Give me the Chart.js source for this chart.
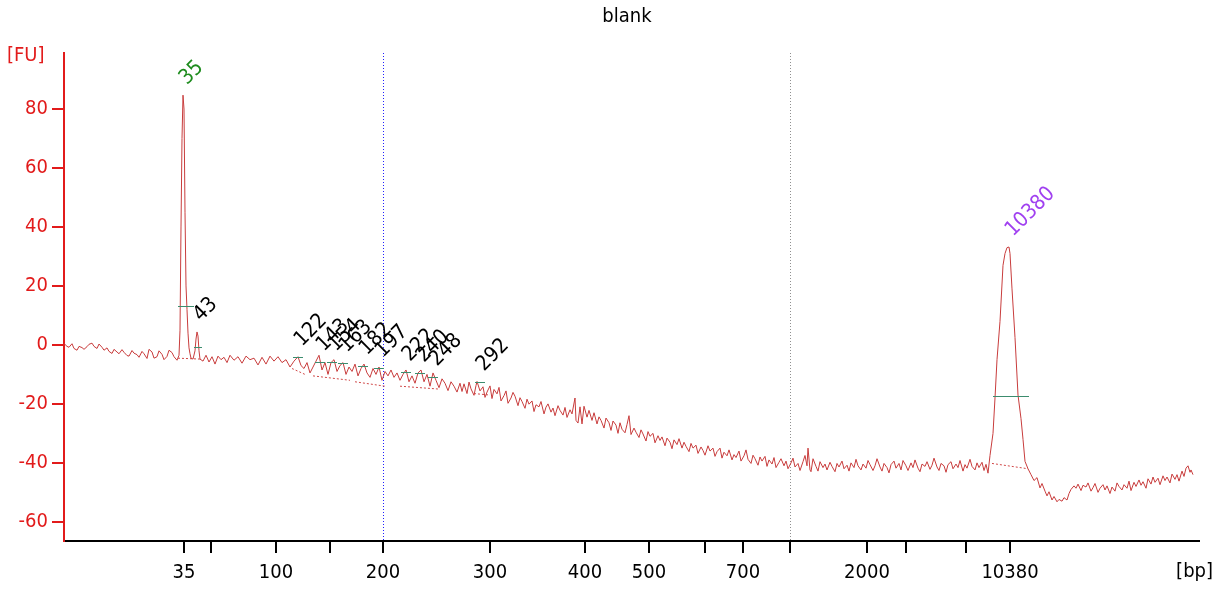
<!DOCTYPE html>
<html>
<head>
<meta charset="utf-8">
<title>blank</title>
<script src="https://cdn.jsdelivr.net/npm/chart.js@4/dist/chart.umd.min.js"></script>
<style>
  html, body { margin: 0; padding: 0; background: #fff; }
  #wrap { width: 1216px; height: 590px; }
</style>
</head>
<body>
<div id="wrap"><canvas id="electro"></canvas></div>
<script>
// x axis is migration (sample index), bp ladder is only a labelling of it
const tickSample = [120, 147, 212, 266, 319, 426, 521, 585, 641, 679, 726, 803, 842, 902, 946];
const tickLabel  = ['35', '', '100', '', '200', '300', '400', '500', '', '700', '', '2000', '', '', '10380'];

// called peaks: position, height at top, size label, colour
const peakSample = [119, 133, 234, 256, 268, 279, 299, 315, 342, 356, 369, 416, 945];
const peakFU     = [84.7, 4.4, -4.1, -5.8, -5.8, -6.1, -7.1, -7.8, -9.2, -9.5, -10.8, -12.5, 33.2];
const peakLabel  = ['35', '43', '122', '143', '154', '163', '182', '197', '222', '240', '248', '292', '10380'];
const peakColor  = ['#1e8c1e', '#000', '#000', '#000', '#000', '#000', '#000', '#000', '#000', '#000', '#000', '#000', '#a040f0'];

// green peak-width markers [sample from, sample to, FU]
const markers = [[114, 130, 13.2], [130, 138, -0.6], [229, 239, -4.1], [251, 261, -5.8], [263, 273, -5.8],
  [274, 284, -6.1], [294, 304, -7.1], [310, 320, -7.8], [337, 347, -9.2], [351, 361, -9.5],
  [364, 374, -10.8], [411, 421, -12.5], [929, 965, -17.3]];

// dotted baselines under peaks [x0, FU0, x1, FU1]
const baselines = [[114, -4.5, 136, -4.8], [228, -8, 241, -10], [249, -10.5, 286, -12], [291, -12.5, 321, -14],
  [336, -14, 376, -15], [410, -16.5, 426, -17], [928, -40.2, 964, -42]];

// electropherogram trace [sample, FU]
const trace = [
  [0,0.5],[3,-0.5],[5,-0.8],[8,0.4],[10,-1.2],[13,-1.8],[15,-0.5],[18,-0.9],[20,-1.5],[23,-0.6],[25,0.2],[28,0.6],[30,-0.5],[33,-1.2],[35,0.3],[38,-0.8],[40,-1.8],[43,-1.0],[45,-2.2],[48,-2.9],
  [50,-1.5],[53,-2.4],[55,-3.0],[58,-1.6],[60,-2.5],[63,-3.6],[65,-3.8],[68,-1.9],[70,-2.8],[73,-3.3],[75,-4.2],[78,-2.2],[80,-3.0],[83,-4.6],[85,-1.5],[88,-2.4],[90,-4.5],[93,-4.0],[95,-2.0],[98,-3.2],
  [100,-5.0],[103,-3.9],[105,-1.8],[108,-2.6],[110,-4.0],[113,-5.2],[115,-3.5],[116,5],[117,40],[118,70],[119,84.7],[120,80],
  [121,45],[122,20],[123,12],[124,4],[125,-1],[126,-3],[127,-4.5],[129,-4.8],[131,-2],[132,2],
  [133,4.4],[134,3],[135,-2],[136,-4.8],[139,-5.5],[142,-3.5],[145,-5.8],[148,-4.0],[151,-6.5],[154,-3.8],
  [157,-5.0],[160,-4.2],[163,-6.0],[166,-3.5],[170,-5.2],[174,-4.0],[178,-6.2],[182,-3.8],[186,-5.0],[190,-4.5],
  [194,-6.8],[198,-4.2],[202,-6.5],[206,-3.8],[210,-5.5],[214,-4.0],[218,-6.0],[222,-5.0],[226,-7.5],[230,-5.5],
  [234,-4.0],[237,-7.0],[240,-8.0],[243,-6.0],[246,-9.5],[249,-7.5],[252,-5.5],[255,-3.5],[258,-8.5],[261,-6.0],
  [264,-10.0],[267,-6.0],[270,-5.0],[273,-9.0],[276,-7.0],[279,-6.0],[282,-10.0],[285,-7.5],[288,-9.0],[291,-6.5],
  [294,-10.5],[297,-8.0],[300,-6.5],[303,-9.5],[306,-11.0],[309,-8.0],[312,-10.0],[315,-7.5],[318,-12.0],[321,-9.0],
  [324,-10.5],[327,-8.5],[330,-11.0],[333,-9.5],[336,-12.0],[339,-10.0],[342,-8.5],[345,-12.5],[348,-10.5],[351,-13.0],
  [354,-9.5],[357,-8.5],[360,-12.5],[363,-10.0],[366,-14.0],[369,-9.5],[372,-12.0],[375,-14.5],[378,-11.5],[381,-13.0],
  [384,-15.5],[387,-12.5],[390,-14.0],[393,-16.0],[396,-13.0],
  [398,-15.8],[400,-13.2],[403,-16.5],[405,-12.6],[407,-14.9],[410,-17.1],[412,-13.8],[413,-12.4],[416,-15.6],[419,-14.2],
  [421,-17.8],[423,-16.0],[426,-13.9],[428,-18.2],[430,-15.1],[433,-16.6],[435,-14.4],[437,-19.0],[440,-17.2],[442,-15.6],
  [444,-19.8],[447,-18.0],[449,-16.1],[451,-17.4],[454,-20.6],[456,-17.9],[458,-19.2],[461,-21.5],[463,-18.4],[465,-20.1],
  [468,-19.0],[470,-22.6],[472,-20.3],[475,-21.0],[477,-19.2],[480,-23.4],[482,-21.1],[484,-20.0],[487,-22.8],[489,-21.4],
  [491,-24.0],[494,-20.6],[496,-22.2],[499,-23.8],[501,-21.2],[503,-24.6],[506,-22.0],[508,-23.4],[511,-18.0],[512,-25.6],
  [514,-26.5],[516,-21.0],[518,-26.8],[520,-20.8],[523,-24.5],[525,-22.2],[528,-25.6],[530,-23.0],[533,-26.8],[535,-24.4],
  [537,-25.6],[540,-28.2],[542,-24.8],[545,-26.4],[547,-29.0],[549,-25.8],[552,-27.2],[554,-30.0],[556,-26.4],[558,-28.6],
  [561,-29.8],[563,-27.0],[565,-24.0],[567,-30.4],[570,-28.2],[572,-29.6],[575,-31.4],[577,-28.8],[579,-30.2],[582,-32.6],
  [584,-29.4],[586,-31.0],[589,-30.0],[591,-33.2],[594,-30.8],[596,-32.4],[598,-31.2],[601,-34.2],[603,-31.6],[606,-33.0],
  [608,-35.2],[610,-32.2],[613,-33.8],[615,-31.8],[618,-35.0],[620,-33.0],[622,-34.4],[625,-36.2],[627,-33.4],[629,-35.0],
  [632,-34.0],[634,-36.8],[637,-34.6],[639,-35.8],[641,-37.4],[644,-34.2],[646,-36.0],[649,-35.0],[651,-37.8],[653,-36.2],
  [656,-35.0],[658,-38.4],[660,-36.4],[663,-37.6],[665,-35.6],[668,-39.0],[670,-37.2],[672,-38.2],[675,-36.0],[677,-39.4],
  [680,-37.6],[682,-35.6],[684,-38.8],[687,-40.2],[689,-37.4],[691,-38.6],[694,-40.8],[696,-38.0],[698,-39.4],[701,-37.8],
  [703,-41.2],[705,-39.0],[708,-40.4],[710,-38.2],[712,-41.6],[715,-39.8],[717,-38.6],[720,-41.0],[722,-39.4],[724,-42.0],
  [727,-40.0],[729,-38.4],[731,-41.4],[734,-40.2],[736,-42.6],[739,-39.6],[741,-37.5],[743,-41.0],[744,-35.0],[746,-42.4],
  [747,-43.0],[749,-38.6],[752,-41.2],[754,-42.8],[756,-39.6],[759,-41.6],[761,-40.4],[763,-42.4],[766,-39.8],[768,-41.2],
  [771,-43.0],[773,-40.2],[775,-41.4],[778,-39.4],[780,-42.0],[783,-40.8],[785,-42.8],[787,-40.0],[790,-41.6],[792,-38.8],
  [794,-41.0],[797,-42.4],[799,-40.4],[802,-41.8],[804,-39.2],[806,-40.6],[809,-42.6],[811,-41.0],[813,-38.6],[816,-41.4],
  [818,-42.8],[820,-40.2],[823,-41.6],[825,-43.4],[827,-40.6],[830,-39.4],[832,-41.8],[835,-40.2],[837,-42.4],[839,-39.2],
  [842,-41.0],[844,-42.6],[847,-40.0],[849,-41.6],[851,-39.0],[854,-41.8],[856,-43.0],[858,-40.4],[861,-41.2],[863,-39.6],
  [866,-42.2],[868,-40.8],[870,-38.4],[873,-41.4],[875,-42.6],[877,-40.2],[880,-41.0],[882,-43.2],[884,-40.6],[887,-39.6],
  [889,-42.0],[892,-40.4],[894,-41.6],[896,-39.2],[899,-42.8],[901,-40.6],[903,-41.8],[906,-38.8],[908,-41.2],[911,-42.4],
  [913,-40.0],[915,-41.6],[918,-39.8],[920,-42.6],[922,-40.5],[924,-43.5],
  [926,-37.5],[929,-30],[931,-18],[933,-5],[936,8],[939,27],[941,31],[943,33],[945,33.2],[946,31],
  [948,19],[951,2.5],[954,-17],[957,-25],[959,-32],[961,-39.5],[964,-42],[967,-44],[970,-46],[973,-45],
  [976,-48.5],[978,-47.0],[981,-49.6],[983,-51.2],[985,-49.8],[988,-52.6],[990,-51.4],[993,-53.2],[995,-52.4],[998,-53.0],
  [1000,-51.8],[1003,-52.6],[1005,-50.4],[1007,-49.0],[1010,-47.8],[1012,-48.6],[1014,-47.2],[1017,-49.4],[1019,-47.6],[1022,-48.2],
  [1024,-46.8],[1027,-49.6],[1029,-48.4],[1031,-47.0],[1034,-50.0],[1036,-48.6],[1039,-47.4],[1041,-49.2],[1043,-47.8],[1046,-50.4],
  [1048,-48.2],[1051,-49.6],[1053,-46.8],[1055,-48.0],[1058,-49.2],[1060,-47.4],[1063,-48.6],[1065,-46.2],[1067,-49.4],[1070,-46.6],
  [1072,-48.0],[1075,-45.8],[1077,-47.6],[1079,-46.4],[1082,-48.6],[1084,-45.4],[1087,-47.2],[1089,-44.8],[1091,-46.6],[1094,-45.2],
  [1096,-47.4],[1099,-44.4],[1101,-46.0],[1103,-44.8],[1106,-46.8],[1108,-43.8],[1111,-45.6],[1113,-44.0],[1115,-46.2],[1118,-42.8],
  [1120,-44.6],[1122,-41.8],[1124,-41.0],[1126,-43.2],[1127,-42.4],[1129,-44]
];

const FONT = '"DejaVu Sans Condensed", "DejaVu Sans", sans-serif';

const peakMarks = {
  id: 'peakMarks',
  beforeDatasetsDraw(chart) {
    const { ctx, chartArea, scales: { x } } = chart;
    ctx.save();
    ctx.lineWidth = 1;
    ctx.setLineDash([1, 2]);
    // dotted lines at 200 bp and 1000 bp
    [[319, '#2020ff'], [726, '#909090']].forEach(([s, c]) => {
      const px = Math.round(x.getPixelForValue(s)) + 0.5;
      ctx.strokeStyle = c;
      ctx.beginPath();
      ctx.moveTo(px, chartArea.top);
      ctx.lineTo(px, chartArea.bottom);
      ctx.stroke();
    });
    ctx.restore();
  },
  afterDatasetsDraw(chart) {
    const { ctx, scales: { x, y } } = chart;
    ctx.save();
    ctx.lineWidth = 1;
    ctx.setLineDash([2, 2]);
    ctx.strokeStyle = '#d04848';
    baselines.forEach(b => {
      ctx.beginPath();
      ctx.moveTo(x.getPixelForValue(b[0]), y.getPixelForValue(b[1]));
      ctx.lineTo(x.getPixelForValue(b[2]), y.getPixelForValue(b[3]));
      ctx.stroke();
    });
    ctx.setLineDash([]);
    ctx.strokeStyle = '#3c8c6e';
    markers.forEach(m => {
      const py = Math.round(y.getPixelForValue(m[2])) + 0.5;
      ctx.beginPath();
      ctx.moveTo(x.getPixelForValue(m[0]), py);
      ctx.lineTo(x.getPixelForValue(m[1]), py);
      ctx.stroke();
    });
    ctx.font = '21px ' + FONT;
    ctx.textAlign = 'left';
    ctx.textBaseline = 'alphabetic';
    peakLabel.forEach((lab, i) => {
      ctx.save();
      ctx.translate(x.getPixelForValue(peakSample[i]) + 4, y.getPixelForValue(peakFU[i]) - 10);
      ctx.rotate(-Math.PI / 4);
      ctx.fillStyle = peakColor[i];
      ctx.fillText(lab, 0, 0);
      ctx.restore();
    });
    ctx.restore();
  },
  afterDraw(chart) {
    const { ctx } = chart;
    ctx.save();
    ctx.font = '20px ' + FONT;
    ctx.fillStyle = '#000';
    ctx.textAlign = 'center';
    ctx.textBaseline = 'middle';
    ctx.fillText('blank', 627, 17);
    ctx.textAlign = 'right';
    ctx.fillText('[bp]', 1213, 572);
    ctx.textAlign = 'left';
    ctx.fillStyle = '#e21b1b';
    ctx.fillText('[FU]', 7, 56);
    ctx.restore();
  }
};

new Chart(document.getElementById('electro'), {
  type: 'line',
  data: {
    datasets: [{
      data: trace.map(p => ({ x: p[0], y: p[1] })),
      borderColor: 'rgb(200, 60, 60)',
      borderWidth: 1,
      pointRadius: 0,
      tension: 0,
      fill: false
    }]
  },
  options: {
    responsive: true,
    maintainAspectRatio: false,
    animation: false,
    layout: { padding: { top: 53, right: 17, left: 0, bottom: 0 } },
    plugins: { legend: { display: false }, tooltip: { enabled: false }, title: { display: false } },
    scales: {
      x: {
        type: 'linear',
        min: 0,
        max: 1135,
        border: { color: '#000', width: 2 },
        grid: { drawOnChartArea: false, drawTicks: true, tickLength: 12, color: '#000', lineWidth: 2 },
        ticks: {
          color: '#000',
          font: { family: FONT, size: 20 },
          padding: 8,
          autoSkip: false,
          maxRotation: 0,
          callback: (v, i) => tickLabel[i]
        },
        afterBuildTicks: s => { s.ticks = tickSample.map(v => ({ value: v })); },
        afterFit: s => { s.height = 49; }
      },
      y: {
        min: -66.5,
        max: 99,
        border: { color: '#e21b1b', width: 2 },
        grid: { drawOnChartArea: false, drawTicks: true, tickLength: 12, color: '#e21b1b', lineWidth: 2 },
        ticks: {
          stepSize: 20,
          includeBounds: false,
          color: '#e21b1b',
          font: { family: FONT, size: 20 },
          padding: 4
        },
        afterFit: s => { s.width = 64; }
      }
    }
  },
  plugins: [peakMarks]
});
</script>
</body>
</html>
